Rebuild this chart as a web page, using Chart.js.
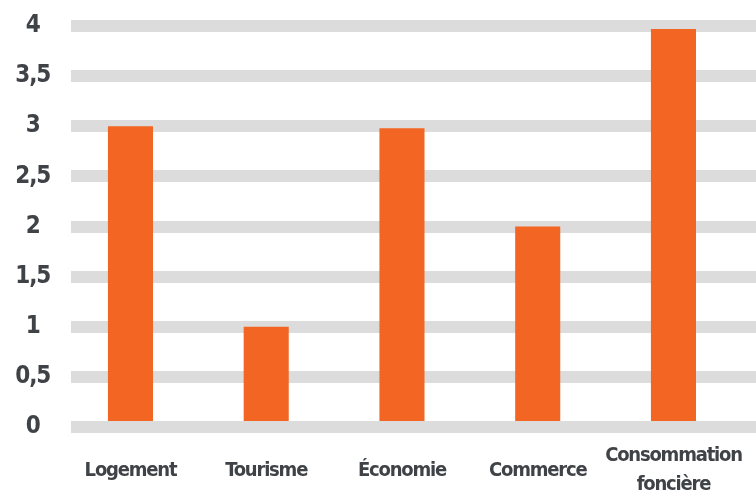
<!DOCTYPE html>
<html>
<head>
<meta charset="utf-8">
<script src="https://cdn.jsdelivr.net/npm/chart.js@4.4.1/dist/chart.umd.min.js"></script>
<style>
  html, body { margin: 0; padding: 0; background: #ffffff; }
  .chart-holder { width: 756px; height: 495px; position: relative; }
</style>
</head>
<body>
<div class="chart-holder"><canvas id="chart"></canvas></div>
<script>
const categories = ['Logement', 'Tourisme', 'Économie', 'Commerce', ['Consommation', 'foncière']];
const scores = [3, 1, 2.98, 2, 3.97];
const yTickLabels = ['0', '0,5', '1', '1,5', '2', '2,5', '3', '3,5', '4'];

const FONT_FAMILY = '"Liberation Sans Narrow", "DejaVu Sans Condensed", "Roboto", sans-serif';
const TEXT_COLOR = '#3f4246';
const BAR_COLOR = '#f26522';
const BAND_COLOR = '#dcdcdc';

// squeeze the labels a little, the condensed face is still too wide
const tightText = {
  id: 'tightText',
  beforeLayout: (chart) => {
    chart.ctx.letterSpacing = '-1.2px';
  },
  beforeDraw: (chart) => {
    chart.ctx.letterSpacing = '-1.2px';
  },
};

const initChart = () => {
  const points = scores.map((value, index) => ({ x: index, y: value }));

  return new Chart(document.getElementById('chart'), {
    type: 'bar',
    data: {
      datasets: [
        {
          data: points,
          backgroundColor: BAR_COLOR,
          borderWidth: 0,
          categoryPercentage: 1,
          barPercentage: 0.332,
        },
      ],
    },
    plugins: [tightText],
    options: {
      animation: false,
      responsive: true,
      maintainAspectRatio: false,
      layout: { padding: { top: 26, right: 0, bottom: 0, left: 0 } },
      plugins: {
        legend: { display: false },
        tooltip: { enabled: false },
      },
      scales: {
        x: {
          type: 'linear',
          offset: false,
          min: -0.438,
          max: 4.608,
          afterBuildTicks: (scale) => {
            scale.ticks = categories.map((_, index) => ({ value: index }));
          },
          afterFit: (scale) => {
            scale.height = 68;
          },
          grid: { display: false, drawTicks: true, tickLength: 25 },
          border: { display: false },
          ticks: {
            autoSkip: false,
            maxRotation: 0,
            minRotation: 0,
            padding: 4,
            crossAlign: 'center',
            color: TEXT_COLOR,
            font: { family: FONT_FAMILY, size: 20, weight: 'bold', lineHeight: 1.45 },
            callback: (value) => categories[value],
          },
        },
        y: {
          min: 0,
          max: 4,
          afterFit: (scale) => {
            scale.width = 71;
          },
          grid: {
            color: BAND_COLOR,
            lineWidth: 12,
            drawTicks: true,
            tickLength: 20,
            tickColor: 'rgba(0, 0, 0, 0)',
          },
          border: { display: false },
          ticks: {
            stepSize: 0.5,
            padding: 1,
            crossAlign: 'center',
            color: TEXT_COLOR,
            font: { family: FONT_FAMILY, size: 24, weight: 'bold' },
            callback: (value, index) => yTickLabels[index],
          },
        },
      },
    },
  });
};

initChart();
</script>
</body>
</html>
